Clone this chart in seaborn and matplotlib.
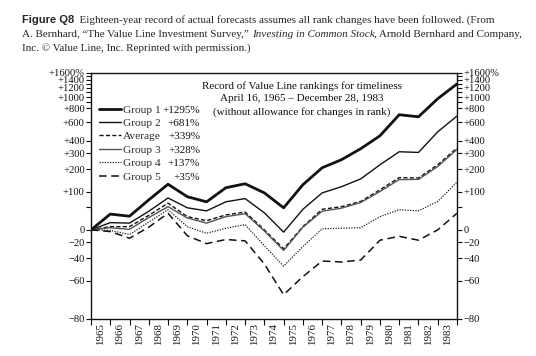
"""Value Line timeliness ranks, 1965-1983 — figure Q8 redraw."""

import matplotlib

matplotlib.use("Agg")
import matplotlib.pyplot as plt
import numpy as np
import pandas as pd
import seaborn as sns

# boundaries: Apr 1965 start, then each year end through Dec 1983
PERIOD_IDX = list(range(20))
YEARS = [str(y) for y in range(1965, 1984)]

GROUP_1 = [0, 33, 28, 72, 128, 82, 66, 114, 130, 95, 49, 126, 207, 255, 333, 447, 700, 671, 969, 1295]
GROUP_2 = [0, 14, 13, 40, 78, 49, 41, 66, 76, 36, -4, 45, 95, 118, 151, 224, 310, 305, 488, 681]
AVERAGE = [0, 6, 6, 30, 62, 27, 18, 31, 38, 0, -29, 6, 45, 52, 67, 106, 157, 155, 224, 339]
GROUP_3 = [0, 4, 1, 25, 52, 24, 13, 27, 34, -2, -31, 5, 40, 48, 64, 100, 148, 149, 214, 328]
GROUP_4 = [0, -1, -8, 15, 44, 6, -6, 3, 10, -25, -48, -26, 2, 3, 4, 27, 44, 41, 67, 137]
GROUP_5 = [0, -3, -14, 5, 35, -10, -22, -16, -18, -46, -69, -57, -43, -44, -42, -17, -11, -17, 0, 35]

SERIES = ["Group 1", "Group 2", "Average", "Group 3", "Group 4", "Group 5"]
FINAL_PCT = ["+1295%", "+681%", "+339%", "+328%", "+137%", "+35%"]

Y_TICKS = [-80, -60, -40, -20, 0, 100, 200, 300, 400, 600, 800, 1000, 1200, 1400, 1600]
Y_TICK_LABELS = ["\u221280", "\u221260", "\u221240", "\u221220", "0", "+100", "+200", "+300",
                 "+400", "+600", "+800", "+1000", "+1200", "+1400", "+1600%"]
Y_MINOR = [50, 900, 1100, 1300, 1500]

STYLES = {
    "Group 1": dict(color="#111111", lw=2.0, ls="-"),
    "Group 2": dict(color="#111111", lw=1.0, ls="-"),
    "Average": dict(color="#111111", lw=1.0, ls=(0, (3, 1.6))),
    "Group 3": dict(color="#555555", lw=1.0, ls="-"),
    "Group 4": dict(color="#222222", lw=0.9, ls=(0, (1, 1.1))),
    "Group 5": dict(color="#111111", lw=1.1, ls=(0, (5, 3))),
}

sns.set_theme(style="ticks")
plt.rcParams["font.family"] = ["Liberation Serif", "DejaVu Serif"]


def to_frame() -> pd.DataFrame:
    cols = [GROUP_1, GROUP_2, AVERAGE, GROUP_3, GROUP_4, GROUP_5]
    rows = []
    for name, vals in zip(SERIES, cols):
        for i, v in zip(PERIOD_IDX, vals):
            rows.append({"period": i, "pct": v, "series": name})
    return pd.DataFrame(rows)


def draw_runs(fig, x_px, y_px, runs, size):
    """Caption line made of pieces in different fonts, laid out left to right."""
    r = fig.canvas.get_renderer()
    W, H = fig.bbox.width, fig.bbox.height
    x = x_px
    for text, kw in runs:
        t = fig.text(x / W, 1 - y_px / H, text, fontsize=size, va="baseline", ha="left", **kw)
        x += t.get_window_extent(r).width


def main() -> None:
    df = to_frame()
    fig = plt.figure(figsize=(5.36, 3.56), dpi=100)
    ax = fig.add_axes([91 / 536, 1 - 319 / 356, 366 / 536, 246 / 356])

    ax.set_yscale("function", functions=(lambda v: np.log1p(np.asarray(v) / 100.0),
                                         lambda u: np.expm1(u) * 100.0))

    for name in SERIES:
        st = STYLES[name]
        sns.lineplot(data=df[df["series"] == name], x="period", y="pct", ax=ax,
                     color=st["color"], linewidth=st["lw"], linestyle=st["ls"],
                     label=name, legend=False)

    ax.set_xlim(0, 19)
    ax.set_ylim(-80, 1600)
    ax.set_xlabel("")
    ax.set_ylabel("")

    ax.set_xticks(PERIOD_IDX)
    ax.set_xticklabels([])
    ax.set_xticks([i + 0.5 for i in range(len(YEARS))], minor=True)
    ax.set_xticklabels(YEARS, minor=True, rotation=90, fontsize=7.8)
    ax.tick_params(axis="x", which="major", direction="out", length=4, width=0.8, color="#111111")
    ax.tick_params(axis="x", which="minor", length=0, pad=3, labelcolor="#111111")

    ax.set_yticks(Y_TICKS)
    ax.set_yticklabels(Y_TICK_LABELS, fontsize=7.6)
    ax.set_yticks(Y_MINOR, minor=True)
    ax.set_yticklabels([], minor=True)
    ax.tick_params(axis="y", which="both", direction="out", length=3.5, width=0.8,
                   left=True, right=True, labelleft=True, labelright=True,
                   pad=1, color="#111111", labelcolor="#111111")

    for sp in ax.spines.values():
        sp.set_visible(True)
        sp.set_linewidth(1.0)
        sp.set_color("#111111")
    ax.grid(False)

    # legend with right-aligned final returns
    leg = ax.legend(loc="upper left", bbox_to_anchor=(0.01, 0.89), frameon=False,
                    fontsize=8.2, handlelength=1.9, handletextpad=0.15,
                    labelspacing=0.3, borderaxespad=0.0)
    fig.canvas.draw()
    r = fig.canvas.get_renderer()
    inv = fig.transFigure.inverted()
    for txt, pct in zip(leg.get_texts(), FINAL_PCT):
        bb = txt.get_window_extent(r)
        ymid = (bb.y0 + bb.y1) / 2
        fx, fy = inv.transform((200, ymid))
        fig.text(fx, fy, pct, ha="right", va="center", fontsize=8.0, color="#111111")

    ax.text(0.577, 0.965,
            "Record of Value Line rankings for timeliness\n"
            "April 16, 1965 \u2013 December 28, 1983\n"
            "(without allowance for changes in rank)",
            transform=ax.transAxes, ha="center", va="top", fontsize=8.0,
            linespacing=1.45, color="#111111")

    # caption
    size = 8.0
    draw_runs(fig, 22, 23, [
        ("Figure Q8", dict(family="Liberation Sans", weight="bold")),
        ("  Eighteen-year record of actual forecasts assumes all rank changes have been followed. (From", {}),
    ], size)
    draw_runs(fig, 22, 37, [
        ("A. Bernhard, \u201cThe Value Line Investment Survey,\u201d ", {}),
        ("Investing in Common Stock", dict(style="italic")),
        (", Arnold Bernhard and Company,", {}),
    ], size)
    draw_runs(fig, 22, 51, [
        ("Inc. \u00a9 Value Line, Inc. Reprinted with permission.)", {}),
    ], size)

    fig.savefig("out.png", dpi=100)
    plt.close(fig)


if __name__ == "__main__":
    main()
